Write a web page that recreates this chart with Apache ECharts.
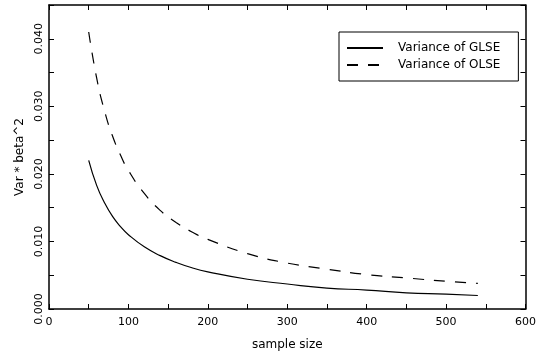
<!DOCTYPE html>
<html>
<head>
<meta charset="utf-8">
<script src="https://cdn.jsdelivr.net/npm/echarts@6/dist/echarts.min.js"></script>
<style>
  html, body { margin: 0; padding: 0; background: #fff; }
  #chart { width: 539px; height: 361px; }
</style>
</head>
<body>
<div id="chart"></div>
<script>
  // sample sizes and variances
  var sampleSize = [50, 60, 70, 80, 90, 100, 120, 140, 160, 180, 200, 250, 300, 350, 400, 450, 500, 540];
  var varGLSE = [0.0220, 0.0183, 0.0157, 0.0137, 0.0122, 0.0110, 0.0092, 0.0079, 0.0069, 0.0061,
                 0.0055, 0.0044, 0.0037, 0.0031, 0.0028, 0.0024, 0.0022, 0.0020];
  var varOLSE = [0.0410, 0.0342, 0.0293, 0.0256, 0.0228, 0.0205, 0.0171, 0.0146, 0.0128, 0.0114,
                 0.0103, 0.0082, 0.0068, 0.0059, 0.0051, 0.0046, 0.0041, 0.0038];
  var seriesNames = ['Variance of GLSE', 'Variance of OLSE'];

  var font = 'DejaVu Sans';
  var myChart = echarts.init(document.getElementById('chart'));

  function pairs(ys) {
    return sampleSize.map(function (x, i) { return [x, ys[i]]; });
  }

  var tickStyle = { show: true, inside: true, length: 5, lineStyle: { color: '#000', width: 1 } };
  var lineAxis = { show: true, onZero: false, lineStyle: { color: '#000', width: 1.5 } };

  var option = {
    animation: false,
    backgroundColor: '#fff',
    textStyle: { fontFamily: font, color: '#000' },
    grid: { left: 49, right: 11, top: 5, bottom: 52 },
    legend: {
      orient: 'vertical',
      left: 339,
      top: 32,
      padding: [10, 18, 10, 7],
      itemGap: 5,
      itemWidth: 36,
      itemHeight: 12,
      borderColor: '#000',
      borderWidth: 1,
      itemStyle: { color: 'transparent', borderColor: 'transparent', borderWidth: 0 },
      textStyle: { fontFamily: font, fontSize: 12, color: '#000', padding: [0, 0, 0, 10] },
      data: seriesNames
    },
    xAxis: [{
      type: 'value',
      min: 0,
      max: 600,
      interval: 50,
      name: 'sample size',
      nameLocation: 'middle',
      nameGap: 30,
      nameTextStyle: { fontFamily: font, fontSize: 12, color: '#000' },
      axisLine: lineAxis,
      axisTick: tickStyle,
      splitLine: { show: false },
      axisLabel: {
        fontFamily: font, fontSize: 11, color: '#000', margin: 8,
        formatter: function (v) { return v % 100 === 0 ? String(v) : ''; }
      }
    }, {
      type: 'value',
      position: 'top',
      min: 0,
      max: 600,
      interval: 50,
      axisLine: lineAxis,
      axisTick: tickStyle,
      splitLine: { show: false },
      axisLabel: { show: false }
    }],
    yAxis: [{
      type: 'value',
      min: 0,
      max: 0.045,
      interval: 0.005,
      name: 'Var * beta^2',
      nameLocation: 'middle',
      nameRotate: 90,
      nameGap: 22,
      nameTextStyle: { fontFamily: font, fontSize: 12, color: '#000' },
      axisLine: lineAxis,
      axisTick: tickStyle,
      splitLine: { show: false },
      axisLabel: {
        fontFamily: font, fontSize: 11, color: '#000', rotate: 90, margin: 4,
        formatter: function (v) {
          var k = v / 0.01;
          return Math.abs(k - Math.round(k)) < 1e-6 ? v.toFixed(3) : '';
        }
      }
    }, {
      type: 'value',
      position: 'right',
      min: 0,
      max: 0.045,
      interval: 0.005,
      axisLine: lineAxis,
      axisTick: tickStyle,
      splitLine: { show: false },
      axisLabel: { show: false }
    }],
    series: [
      {
        name: seriesNames[0],
        type: 'line',
        xAxisIndex: 0,
        yAxisIndex: 0,
        symbol: 'none',
        smooth: true,
        color: '#000',
        lineStyle: { color: '#000', width: 1.2, type: 'solid' },
        data: pairs(varGLSE)
      },
      {
        name: seriesNames[1],
        type: 'line',
        xAxisIndex: 0,
        yAxisIndex: 0,
        symbol: 'none',
        smooth: true,
        color: '#000',
        lineStyle: { color: '#000', width: 1.2, type: [11, 10] },
        data: pairs(varOLSE)
      }
    ]
  };

  myChart.setOption(option);
</script>
</body>
</html>
